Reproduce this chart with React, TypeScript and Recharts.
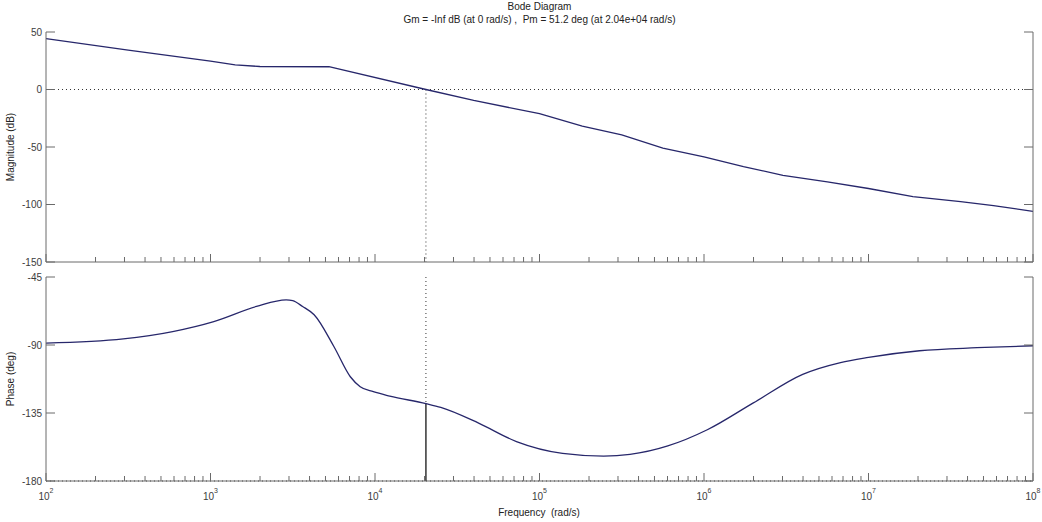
import { Line, LineChart, ReferenceLine, XAxis, YAxis } from "recharts";

const decades = [1e2, 1e3, 1e4, 1e5, 1e6, 1e7, 1e8];
const minorSteps = [2, 3, 4, 5, 6, 7, 8, 9];
const magTicks = [50, 0, -50, -100, -150];
const phaseTicks = [-45, -90, -135, -180];

// open-loop magnitude (dB) vs frequency (rad/s)
const magFreq = [
  100, 316, 1000, 1413, 1995, 5248, 20400, 39811, 100000, 181970, 316228, 562341, 1e6, 1737801, 3019952,
  5623413, 1e7, 18620871, 36307805, 57543994, 1e8,
];
const magDb = [
  44.3, 34.3, 24.6, 21.5, 20.0, 19.8, 0, -9.5, -21, -31.8, -39.5, -51, -58.5, -67, -74.6, -80.3, -86.1, -93.2,
  -97.5, -101, -106,
];

// open-loop phase (deg) vs frequency (rad/s)
const phaseFreq = [
  100, 295, 589, 1047, 1905, 2884, 3162, 3631, 4266, 5623, 7079, 8128, 9772, 12303, 20400, 25119, 42658, 72444,
  138038, 245471, 354813, 602560, 1047129, 1995262, 3981072, 6760830, 1e7, 20417379, 45708819, 1e8,
];
const phaseDeg = [
  -88.8, -86.0, -81.1, -74.5, -64.5, -60.1, -60.7, -64.5, -70, -91, -111, -117.6, -120.9, -123.8, -128.8, -131.3,
  -141.7, -153.9, -161.7, -163.5, -162.4, -156.8, -146.1, -128.3, -109.4, -101.6, -98.2, -93.8, -91.8, -90.5,
];

// crossover frequency and phase margin
const wc = 2.04e4;
const pm = 51.2;

const magData = magFreq.map((f, i) => ({ f, v: magDb[i] }));
const phaseData = phaseFreq.map((f, i) => ({ f, v: phaseDeg[i] }));

const freqTicks = [
  ...decades,
  ...decades.slice(0, -1).flatMap((d) => minorSteps.map((m) => m * d)),
].sort((a, b) => a - b);

const FRAME = "#6a6a6a";
const TEXT = "#3c3c3c";
const CURVE = "#27276b";
const FONT = "'Liberation Sans', Arial, sans-serif";

function FreqTick(props: any) {
  const { x, y, payload, side, withLabel } = props;
  const lg = Math.log10(payload.value);
  const exp = Math.round(lg);
  const major = Math.abs(lg - exp) < 1e-6;
  const len = major ? 8 : 5;
  const dir = side === "top" ? 1 : -1;
  return (
    <g>
      <line x1={x} y1={y} x2={x} y2={y + dir * len} stroke={FRAME} />
      {withLabel && major && (
        <text x={x} y={y + 19} textAnchor="middle" fontSize={10} fill={TEXT} fontFamily={FONT}>
          10
          <tspan dy={-7} fontSize={7}>
            {exp}
          </tspan>
        </text>
      )}
    </g>
  );
}

function LevelTick(props: any) {
  const { x, y, payload, side } = props;
  const dir = side === "left" ? 1 : -1;
  return (
    <g>
      <line x1={x} y1={y} x2={x + dir * 9} y2={y} stroke={FRAME} />
      {side === "left" && (
        <text x={x - 4} y={y + 3.5} textAnchor="end" fontSize={10} fill={TEXT} fontFamily={FONT}>
          {payload.value}
        </text>
      )}
    </g>
  );
}

function axesFor(ticks: number[], domain: [number, number], labelled: boolean, bottomHeight: number) {
  return [
    <XAxis
      key="xt"
      xAxisId="t"
      orientation="top"
      dataKey="f"
      type="number"
      scale="log"
      domain={[1e2, 1e8]}
      allowDataOverflow
      ticks={freqTicks}
      interval={0}
      height={0}
      tickSize={0}
      tickMargin={0}
      tickLine={false}
      axisLine={{ stroke: FRAME }}
      tick={(p: any) => <FreqTick {...p} side="top" />}
    />,
    <XAxis
      key="xb"
      xAxisId="b"
      orientation="bottom"
      dataKey="f"
      type="number"
      scale="log"
      domain={[1e2, 1e8]}
      allowDataOverflow
      ticks={freqTicks}
      interval={0}
      height={bottomHeight}
      tickSize={0}
      tickMargin={0}
      tickLine={false}
      axisLine={{ stroke: FRAME }}
      tick={(p: any) => <FreqTick {...p} side="bottom" withLabel={labelled} />}
    />,
    <YAxis
      key="yl"
      yAxisId="l"
      orientation="left"
      type="number"
      domain={domain}
      allowDataOverflow
      ticks={ticks}
      interval={0}
      width={46}
      tickSize={0}
      tickMargin={0}
      tickLine={false}
      axisLine={{ stroke: FRAME }}
      tick={(p: any) => <LevelTick {...p} side="left" />}
    />,
    <YAxis
      key="yr"
      yAxisId="r"
      orientation="right"
      type="number"
      domain={domain}
      allowDataOverflow
      ticks={ticks}
      interval={0}
      width={9}
      tickSize={0}
      tickMargin={0}
      tickLine={false}
      axisLine={{ stroke: FRAME }}
      tick={(p: any) => <LevelTick {...p} side="right" />}
    />,
  ];
}

export default function App() {
  return (
    <div
      style={{
        position: "absolute",
        left: 0,
        top: 0,
        width: 1042,
        height: 522,
        background: "#fff",
        overflow: "hidden",
      }}
    >
      <div style={{ position: "absolute", left: 0, top: 0 }}>
        <LineChart width={1042} height={270} data={magData} margin={{ top: 32, right: 0, bottom: 0, left: 0 }}>
          {axesFor(magTicks, [-150, 50], false, 8)}
          <ReferenceLine xAxisId="b" yAxisId="l" y={0} stroke="#333" strokeDasharray="1 3" />
          <ReferenceLine
            xAxisId="b"
            yAxisId="l"
            segment={[
              { x: wc, y: 0 },
              { x: wc, y: -150 },
            ]}
            stroke="#333"
            strokeDasharray="1 3"
          />
          <Line
            xAxisId="b"
            yAxisId="l"
            dataKey="v"
            type="linear"
            stroke={CURVE}
            strokeWidth={1.3}
            dot={false}
            isAnimationActive={false}
          />
        </LineChart>
      </div>
      <div style={{ position: "absolute", left: 0, top: 270 }}>
        <LineChart width={1042} height={252} data={phaseData} margin={{ top: 7, right: 0, bottom: 0, left: 0 }}>
          {axesFor(phaseTicks, [-180, -45], true, 41)}
          <ReferenceLine xAxisId="b" yAxisId="l" y={-180} stroke="#333" strokeDasharray="1 3" />
          <ReferenceLine
            xAxisId="b"
            yAxisId="l"
            segment={[
              { x: wc, y: -45 },
              { x: wc, y: -180 + pm },
            ]}
            stroke="#333"
            strokeDasharray="1 3"
          />
          <ReferenceLine
            xAxisId="b"
            yAxisId="l"
            segment={[
              { x: wc, y: -180 + pm },
              { x: wc, y: -180 },
            ]}
            stroke="#000"
            strokeWidth={1.2}
          />
          <Line
            xAxisId="b"
            yAxisId="l"
            dataKey="v"
            type="monotone"
            stroke={CURVE}
            strokeWidth={1.3}
            dot={false}
            isAnimationActive={false}
          />
        </LineChart>
      </div>
      <svg
        width={1042}
        height={522}
        style={{ position: "absolute", left: 0, top: 0, pointerEvents: "none" }}
        fontFamily={FONT}
        fontSize={10}
        fill="#222"
      >
        <text x={539.5} y={10} textAnchor="middle">
          Bode Diagram
        </text>
        <text x={539.5} y={22.5} textAnchor="middle" style={{ whiteSpace: "pre" }}>
          {"Gm = -Inf dB (at 0 rad/s) ,  Pm = 51.2 deg (at 2.04e+04 rad/s)"}
        </text>
        <text x={539} y={515.5} textAnchor="middle" style={{ whiteSpace: "pre" }}>
          {"Frequency  (rad/s)"}
        </text>
        <text x={14} y={147} textAnchor="middle" transform="rotate(-90, 14, 147)">
          Magnitude (dB)
        </text>
        <text x={14} y={379} textAnchor="middle" transform="rotate(-90, 14, 379)">
          Phase (deg)
        </text>
      </svg>
    </div>
  );
}
